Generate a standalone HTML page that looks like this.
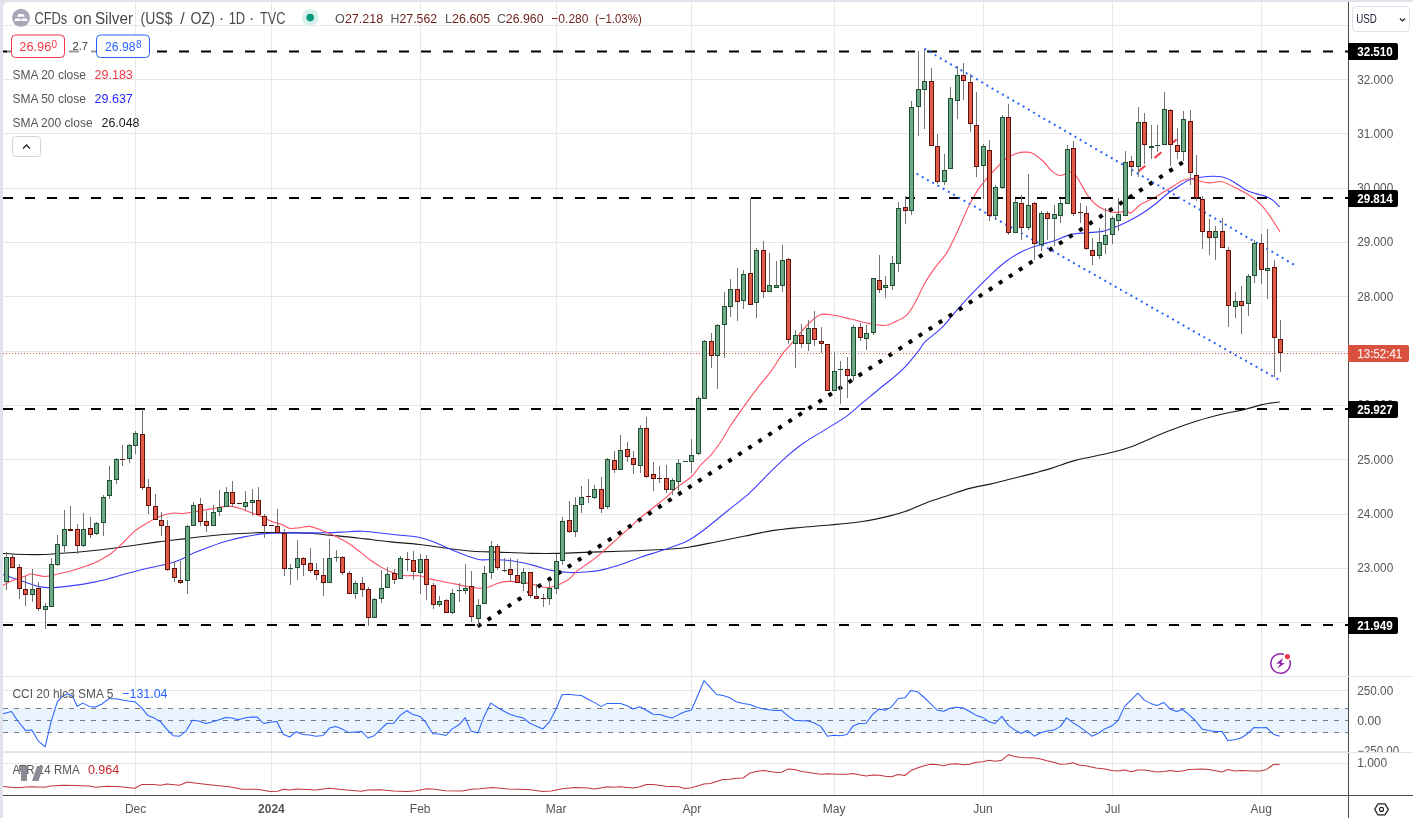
<!DOCTYPE html>
<html><head><meta charset="utf-8"><title>CFDs on Silver (US$ / OZ) 1D</title>
<style>html,body{margin:0;padding:0;background:#fff;overflow:hidden}svg{display:block}</style></head>
<body>
<svg width="1413" height="818" viewBox="0 0 1413 818" font-family="'Liberation Sans', sans-serif">
<rect x="0" y="0" width="1413" height="818" fill="#ffffff"/>
<g id="grid" stroke="#e8e8e8" stroke-width="1" shape-rendering="crispEdges">
<line x1="3" y1="25.5" x2="1348" y2="25.5"/>
<line x1="3" y1="79.5" x2="1348" y2="79.5"/>
<line x1="3" y1="133.5" x2="1348" y2="133.5"/>
<line x1="3" y1="188.5" x2="1348" y2="188.5"/>
<line x1="3" y1="242.5" x2="1348" y2="242.5"/>
<line x1="3" y1="296.5" x2="1348" y2="296.5"/>
<line x1="3" y1="351.5" x2="1348" y2="351.5"/>
<line x1="3" y1="405.5" x2="1348" y2="405.5"/>
<line x1="3" y1="459.5" x2="1348" y2="459.5"/>
<line x1="3" y1="514.5" x2="1348" y2="514.5"/>
<line x1="3" y1="568.5" x2="1348" y2="568.5"/>
<line x1="3" y1="622.5" x2="1348" y2="622.5"/>
<line x1="3" y1="690.5" x2="1348" y2="690.5"/>
<line x1="3" y1="720.5" x2="1348" y2="720.5"/>
<line x1="3" y1="751.5" x2="1348" y2="751.5"/>
<line x1="3" y1="763.5" x2="1348" y2="763.5"/>
<line x1="135.5" y1="2" x2="135.5" y2="795"/>
<line x1="271.5" y1="2" x2="271.5" y2="795"/>
<line x1="420.5" y1="2" x2="420.5" y2="795"/>
<line x1="556.5" y1="2" x2="556.5" y2="795"/>
<line x1="691.5" y1="2" x2="691.5" y2="795"/>
<line x1="834.5" y1="2" x2="834.5" y2="795"/>
<line x1="983.5" y1="2" x2="983.5" y2="795"/>
<line x1="1112.5" y1="2" x2="1112.5" y2="795"/>
<line x1="1261.5" y1="2" x2="1261.5" y2="795"/>
</g>
<g id="cci">
<rect x="3" y="708" width="1345" height="25" fill="#e9f4fe"/>
<line x1="3" y1="708.5" x2="1348" y2="708.5" stroke="#787b86" stroke-width="1" stroke-dasharray="5 6" shape-rendering="crispEdges"/>
<line x1="3" y1="720.5" x2="1348" y2="720.5" stroke="#787b86" stroke-width="1" stroke-dasharray="5 6" shape-rendering="crispEdges"/>
<line x1="3" y1="732.5" x2="1348" y2="732.5" stroke="#787b86" stroke-width="1" stroke-dasharray="5 6" shape-rendering="crispEdges"/>
<polyline fill="none" stroke="#2962ff" stroke-width="1.05" stroke-linejoin="round" points="3.0,713.8 11.5,711.5 17.8,721.0 25.5,730.4 31.8,729.9 38.2,740.8 45.1,746.9 51.0,722.2 57.3,701.8 62.4,696.2 67.5,693.7 72.6,696.2 77.2,706.2 82.8,703.1 89.2,706.4 95.5,706.9 101.9,703.9 109.0,698.8 115.9,698.8 122.3,700.1 128.7,701.1 135.0,701.8 141.4,707.7 147.8,715.4 154.1,717.9 160.5,721.7 166.9,729.4 173.2,735.7 179.6,736.2 186.0,731.1 192.4,720.2 198.7,721.0 205.9,723.5 212.7,721.7 219.1,719.7 225.5,717.4 231.8,717.9 238.2,719.7 244.6,717.9 251.0,717.1 257.3,717.1 263.7,723.5 270.1,722.2 276.9,721.5 283.3,734.2 289.7,737.0 296.3,731.7 302.4,734.5 309.6,735.0 315.9,736.2 323.1,735.5 329.4,728.1 335.8,726.6 342.2,729.1 348.5,732.4 355.4,731.9 361.5,731.4 367.8,738.0 374.2,735.7 380.6,729.4 386.9,723.5 393.8,723.2 400.2,715.4 406.8,710.8 413.2,714.6 420.1,716.4 425.9,722.7 432.8,733.7 439.2,733.9 446.1,735.5 451.9,729.1 459.0,724.8 465.2,717.6 471.0,731.1 477.9,732.9 484.3,715.9 490.9,703.1 497.8,707.7 504.1,711.3 510.5,714.6 516.9,716.4 523.2,717.9 529.6,723.0 536.0,726.1 542.9,728.9 549.2,722.2 555.9,709.5 562.0,694.7 568.6,694.2 575.0,695.0 581.3,695.5 588.2,699.3 594.6,702.6 601.0,706.4 607.3,703.4 614.2,703.4 620.6,703.6 626.9,705.7 633.3,709.0 639.9,706.7 646.3,710.3 653.2,714.3 659.6,714.6 665.9,716.6 672.3,717.9 678.7,714.6 685.0,711.8 691.4,710.0 697.8,695.5 704.0,680.7 710.2,687.3 716.6,694.5 722.9,695.5 729.3,697.5 736.9,702.1 743.3,703.4 749.7,704.4 756.1,706.9 762.4,708.7 768.8,709.7 775.2,710.5 781.5,710.3 787.9,715.9 794.3,720.2 801.9,720.7 808.3,721.0 813.9,722.7 821.0,726.6 827.4,736.2 833.8,735.2 840.1,735.7 847.0,734.5 852.9,726.1 859.2,723.5 866.1,723.2 872.5,714.6 879.1,709.0 885.2,710.3 891.6,706.9 898.2,698.5 904.8,697.8 911.0,690.4 917.3,691.7 924.2,697.5 930.6,703.6 936.9,710.0 943.8,711.3 950.2,708.2 956.8,707.2 963.2,708.0 969.6,711.5 976.4,715.4 982.8,717.6 989.2,721.7 995.0,723.5 1001.9,716.4 1008.3,725.3 1014.6,729.9 1021.0,733.4 1027.4,730.6 1034.3,736.2 1040.6,732.7 1047.0,731.1 1053.8,730.1 1060.2,726.6 1066.6,717.9 1072.9,722.7 1079.3,726.6 1085.7,731.4 1092.0,736.2 1098.4,733.2 1104.8,728.9 1111.9,725.8 1118.0,720.7 1124.6,706.4 1131.5,699.6 1137.9,693.2 1144.3,700.1 1150.6,703.4 1157.0,705.4 1163.9,702.6 1170.3,709.2 1176.6,711.5 1182.5,709.5 1188.9,714.6 1195.7,721.0 1202.1,729.1 1208.5,730.6 1215.1,731.4 1222.0,731.4 1227.8,740.6 1234.7,739.8 1241.1,738.0 1247.5,733.7 1253.8,727.6 1260.2,727.8 1266.6,727.6 1273.4,734.2 1279.8,736.2"/>
</g>
<g id="atr">
<polyline fill="none" stroke="#c2343c" stroke-width="1.05" stroke-linejoin="round" points="3.0,786.4 15.3,787.7 30.6,786.7 44.6,787.2 51.0,785.9 63.7,785.2 76.4,785.4 89.2,785.9 95.5,787.2 107.0,786.2 119.7,786.7 135.0,788.2 141.4,784.6 152.9,784.4 160.5,785.2 166.9,784.1 179.6,785.2 187.3,782.1 198.7,783.4 214.0,785.2 229.3,786.7 242.0,789.2 257.3,789.2 270.1,791.5 277.7,791.3 283.3,789.2 289.7,790.0 296.3,789.0 315.9,790.0 328.7,788.2 341.4,789.5 350.0,790.3 361.5,791.3 367.8,790.0 380.6,789.7 393.3,791.0 407.3,791.5 416.2,790.8 426.4,788.7 432.8,789.0 445.5,790.8 462.1,791.0 471.0,789.2 479.9,788.7 492.7,787.5 508.0,789.0 528.3,789.5 542.9,791.5 551.3,791.0 562.0,788.7 575.0,787.5 588.2,788.0 594.6,789.0 607.3,786.7 614.2,787.2 620.6,786.7 633.3,788.0 639.9,786.7 646.3,784.4 653.2,784.6 665.9,786.2 678.7,786.7 685.0,788.5 691.4,787.7 700.0,785.2 703.8,783.9 710.2,783.6 722.9,779.6 729.3,779.3 736.9,778.3 743.3,778.0 749.7,773.2 756.1,771.4 763.7,770.6 770.1,771.4 776.4,772.4 781.5,772.2 787.9,769.1 794.3,769.6 801.9,771.4 812.1,772.9 821.0,774.2 827.4,773.7 837.6,774.2 847.0,774.2 852.9,773.4 859.2,774.7 866.1,776.0 873.2,775.0 879.1,775.2 885.2,776.2 891.6,776.8 898.2,774.5 904.8,775.5 911.0,770.6 917.3,768.1 924.2,765.8 930.6,764.3 936.9,764.5 943.8,765.8 950.2,764.0 956.8,763.8 963.2,764.8 969.6,764.3 976.4,762.2 982.8,761.7 989.2,760.2 995.0,761.2 1001.9,760.2 1008.3,754.8 1014.6,756.6 1021.0,757.6 1034.3,757.9 1040.6,758.9 1047.0,760.7 1053.6,762.2 1060.2,764.3 1066.6,764.0 1072.9,762.7 1079.3,765.0 1085.7,765.8 1095.9,768.1 1104.8,768.9 1111.9,770.4 1118.0,771.1 1124.6,770.1 1131.5,771.7 1137.9,770.1 1144.3,769.9 1157.0,771.9 1163.9,771.4 1170.3,770.6 1176.6,771.4 1182.5,771.1 1188.9,769.4 1202.1,768.9 1208.5,769.6 1222.0,771.9 1227.8,769.6 1234.7,770.9 1241.1,770.6 1253.8,771.1 1260.2,770.9 1266.6,769.4 1273.4,764.5 1279.8,764.3"/>
</g>
<g id="sma" fill="none" stroke-linejoin="round" stroke-width="1.1">
<path stroke="#1a1a1a" d="M3.0 553.5 C6.6 553.7 17.9 554.3 24.8 554.5 C31.7 554.7 38.4 554.7 44.6 554.5 C50.8 554.3 54.9 553.8 61.9 553.3 C68.9 552.8 78.4 552.0 86.7 551.2 C95.0 550.4 103.2 549.5 111.5 548.5 C119.8 547.5 127.9 546.2 136.2 545.0 C144.4 543.8 152.7 542.6 161.0 541.5 C169.3 540.4 177.5 539.6 185.8 538.6 C194.1 537.6 202.3 536.6 210.6 535.8 C218.8 535.0 227.1 534.3 235.3 533.8 C243.6 533.3 251.8 532.8 260.1 532.6 C268.4 532.4 276.6 532.5 284.9 532.6 C293.1 532.7 302.2 532.9 309.6 533.3 C317.0 533.7 322.8 534.5 329.5 535.1 C336.2 535.7 344.0 536.5 350.0 537.1 C356.0 537.7 358.7 538.1 365.5 538.9 C372.3 539.7 382.1 541.0 391.0 541.9 C399.9 542.8 409.7 543.4 419.0 544.5 C428.3 545.6 438.1 547.2 447.0 548.3 C455.9 549.4 464.0 550.7 472.5 551.3 C481.0 551.9 488.2 551.8 498.0 552.1 C507.8 552.5 520.9 553.2 531.1 553.4 C541.3 553.6 549.3 553.6 559.1 553.4 C568.9 553.2 579.5 552.5 589.7 552.1 C599.9 551.8 611.0 551.6 620.3 551.3 C629.6 551.0 637.2 550.7 645.7 550.3 C654.2 549.9 663.8 549.5 671.2 549.0 C678.6 548.5 682.4 548.2 690.0 547.0 C697.6 545.8 707.9 543.5 716.9 541.7 C725.9 539.9 734.8 538.1 743.8 536.3 C752.8 534.5 761.7 532.3 770.7 530.9 C779.7 529.5 787.8 528.7 797.6 527.7 C807.5 526.7 819.0 526.0 829.8 525.0 C840.5 524.0 852.2 523.0 862.1 521.5 C872.0 520.0 881.8 517.8 889.0 516.1 C896.2 514.5 898.8 513.8 905.1 511.6 C911.4 509.4 919.4 505.4 926.6 502.7 C933.8 500.0 940.9 497.8 948.1 495.4 C955.3 493.0 962.4 490.3 969.6 488.4 C976.8 486.5 984.0 485.5 991.2 483.9 C998.4 482.2 1005.5 480.3 1012.7 478.5 C1019.9 476.7 1027.6 474.9 1034.2 473.1 C1040.8 471.3 1045.8 470.0 1052.6 467.9 C1059.4 465.8 1065.5 463.0 1075.3 460.4 C1085.1 457.8 1101.7 454.9 1111.5 452.5 C1121.3 450.1 1125.1 449.1 1134.2 445.7 C1143.3 442.3 1155.3 436.2 1165.9 432.1 C1176.5 428.0 1188.2 423.8 1197.6 420.8 C1207.0 417.8 1215.0 415.8 1222.5 414.0 C1230.0 412.2 1236.5 411.4 1242.9 409.9 C1249.3 408.4 1256.5 406.0 1261.0 404.9 C1265.5 403.8 1266.9 403.6 1270.0 403.1 C1273.1 402.6 1278.2 402.2 1279.8 402.0"/>
<path stroke="#3c3cff" d="M3.0 574.6 C4.6 575.1 8.8 576.6 12.4 577.9 C16.0 579.1 20.7 580.7 24.8 582.1 C28.9 583.5 33.5 585.2 37.2 586.1 C40.9 587.0 43.4 587.4 47.1 587.6 C50.8 587.8 54.9 587.5 59.4 587.1 C63.9 586.7 68.5 586.2 74.3 585.4 C80.1 584.6 87.9 583.4 94.1 582.1 C100.3 580.9 105.7 579.4 111.5 577.9 C117.3 576.4 122.6 574.6 128.8 573.0 C135.0 571.4 142.4 569.5 148.6 568.0 C154.8 566.5 161.1 565.5 166.0 564.3 C170.9 563.1 173.8 562.5 178.3 560.6 C182.8 558.8 187.8 555.6 193.2 553.2 C198.6 550.9 204.8 548.6 210.6 546.5 C216.4 544.4 222.1 542.4 227.9 540.8 C233.7 539.1 239.8 537.7 245.2 536.6 C250.6 535.5 255.6 534.7 260.1 534.1 C264.7 533.5 268.4 533.5 272.5 533.3 C276.6 533.1 278.7 533.0 284.9 532.9 C291.1 532.8 302.2 532.9 309.6 532.9 C317.0 532.9 324.1 532.7 329.5 532.6 C334.9 532.5 336.2 532.3 341.8 532.1 C347.4 531.9 354.7 530.8 362.9 531.2 C371.1 531.6 381.6 533.3 391.0 534.3 C400.4 535.3 411.4 535.8 419.0 537.3 C426.6 538.8 431.3 541.1 436.8 543.2 C442.3 545.3 447.0 548.0 452.1 550.1 C457.2 552.2 462.7 554.3 467.4 555.9 C472.1 557.5 475.9 559.1 480.1 559.7 C484.4 560.3 487.4 559.5 492.9 559.7 C498.4 559.9 506.4 560.0 513.2 561.0 C520.0 562.0 527.2 563.8 533.6 565.4 C540.0 567.0 545.5 569.2 551.5 570.4 C557.5 571.6 563.8 572.2 569.3 572.5 C574.8 572.8 579.5 572.4 584.6 572.0 C589.7 571.6 594.0 571.6 599.9 570.4 C605.8 569.2 613.5 567.0 620.3 564.8 C627.1 562.6 633.8 559.5 640.6 557.2 C647.4 554.9 654.6 552.9 661.0 550.8 C667.4 548.7 674.1 546.4 678.9 544.5 C683.7 542.6 685.5 542.2 690.0 539.5 C694.5 536.8 699.8 533.0 706.1 528.2 C712.4 523.4 720.4 516.5 727.6 510.7 C734.8 504.9 742.9 498.9 749.2 493.3 C755.5 487.7 759.5 482.9 765.3 477.1 C771.1 471.4 777.8 464.4 784.1 458.8 C790.4 453.2 796.2 448.3 802.9 443.5 C809.6 438.7 817.2 434.6 824.4 430.1 C831.6 425.6 839.7 421.1 846.0 416.6 C852.3 412.1 856.7 407.7 862.1 403.2 C867.5 398.7 873.3 393.7 878.2 389.7 C883.1 385.7 887.2 382.8 891.7 379.0 C896.2 375.2 900.6 371.6 905.1 366.9 C909.6 362.2 915.2 355.0 918.6 350.8 C922.0 346.6 921.4 345.5 925.2 341.7 C929.0 337.9 935.9 333.6 941.3 328.2 C946.7 322.8 952.1 315.4 957.5 309.4 C962.9 303.3 968.2 297.5 973.6 291.9 C979.0 286.3 984.3 280.9 989.7 275.8 C995.1 270.7 1000.5 265.5 1005.9 261.5 C1011.3 257.5 1016.6 254.3 1022.0 251.6 C1027.4 248.9 1032.7 247.2 1038.1 245.4 C1043.5 243.6 1048.9 242.6 1054.3 240.8 C1059.7 239.0 1065.0 235.9 1070.4 234.6 C1075.8 233.3 1081.1 233.3 1086.5 232.8 C1091.9 232.3 1098.2 232.3 1102.7 231.4 C1107.2 230.5 1110.6 228.4 1113.4 227.4 C1116.2 226.4 1116.4 226.8 1119.5 225.5 C1122.6 224.2 1127.8 221.6 1132.0 219.3 C1136.2 217.1 1140.2 214.8 1144.4 212.0 C1148.6 209.2 1152.7 206.0 1156.9 202.7 C1161.1 199.4 1165.2 195.4 1169.4 192.3 C1173.6 189.2 1178.4 186.2 1181.9 184.0 C1185.4 181.8 1187.1 180.5 1190.2 179.4 C1193.3 178.3 1196.8 177.8 1200.6 177.3 C1204.4 176.8 1209.3 176.3 1213.1 176.3 C1216.9 176.3 1220.0 176.4 1223.5 177.3 C1227.0 178.2 1230.0 179.8 1233.8 181.9 C1237.6 184.1 1242.5 188.2 1246.3 190.2 C1250.1 192.2 1253.4 192.9 1256.7 193.9 C1260.0 194.9 1263.3 195.3 1266.1 196.4 C1268.9 197.5 1271.0 198.9 1273.3 200.6 C1275.5 202.3 1278.5 205.8 1279.6 206.8"/>
<path stroke="#ff5064" d="M3.0 585.2 C4.6 584.4 8.8 581.9 12.4 580.4 C16.0 578.9 21.6 577.3 24.8 576.2 C28.0 575.1 28.1 574.0 31.4 574.0 C34.7 574.0 40.4 576.5 44.7 576.5 C49.0 576.5 52.0 575.3 57.0 574.2 C62.0 573.1 68.2 571.9 74.4 570.0 C80.6 568.1 89.1 565.2 94.1 563.1 C99.1 561.0 101.7 559.0 104.6 557.4 C107.5 555.8 109.4 554.8 111.5 553.2 C113.6 551.7 115.2 550.0 117.3 548.1 C119.4 546.2 121.0 544.9 123.9 542.0 C126.9 539.1 130.9 534.2 135.0 530.9 C139.1 527.6 144.3 524.7 148.6 522.2 C152.9 519.7 156.9 517.5 161.0 516.0 C165.1 514.5 169.7 513.4 173.4 513.0 C177.1 512.6 179.2 513.8 183.3 513.5 C187.4 513.2 193.2 511.9 198.2 511.1 C203.1 510.3 208.1 509.4 213.0 508.6 C217.9 507.8 223.8 506.2 227.9 506.1 C232.0 506.0 234.1 506.8 237.8 507.8 C241.5 508.8 246.1 510.7 250.2 512.3 C254.3 513.9 258.9 515.6 262.6 517.2 C266.3 518.8 269.2 520.5 272.5 521.7 C275.8 523.0 279.5 523.6 282.4 524.7 C285.3 525.8 286.9 527.9 289.8 528.4 C292.7 528.9 296.4 528.0 299.7 527.7 C303.0 527.4 306.3 526.1 309.6 526.4 C312.9 526.7 315.8 528.2 319.5 529.6 C323.2 531.0 328.2 533.0 331.9 534.6 C335.6 536.2 338.8 537.9 341.8 539.5 C344.9 541.1 347.1 542.4 350.2 544.5 C353.3 546.6 357.0 549.5 360.4 552.1 C363.8 554.7 367.2 557.8 370.6 560.3 C374.0 562.8 377.4 564.9 380.8 566.9 C384.2 568.9 387.2 570.6 391.0 572.0 C394.8 573.4 399.0 574.9 403.7 575.5 C408.4 576.1 414.8 575.2 419.0 575.8 C423.2 576.4 425.4 578.0 429.2 578.9 C433.0 579.8 437.7 580.6 441.9 581.4 C446.1 582.2 450.4 583.0 454.6 583.9 C458.9 584.8 463.1 585.8 467.4 586.5 C471.6 587.2 476.7 588.2 480.1 588.3 C483.5 588.4 484.8 588.1 487.8 587.3 C490.8 586.4 494.6 584.2 498.0 583.2 C501.4 582.2 504.8 581.6 508.2 581.4 C511.6 581.2 514.5 581.5 518.3 581.9 C522.1 582.3 526.9 583.0 531.1 583.9 C535.4 584.8 540.0 586.9 543.8 587.3 C547.6 587.7 551.0 587.2 554.0 586.5 C557.0 585.8 559.2 584.5 561.7 583.2 C564.2 581.9 566.8 580.9 569.3 578.9 C571.8 576.9 573.5 574.0 576.9 571.2 C580.3 568.4 585.5 565.5 589.7 562.3 C594.0 559.1 598.1 555.7 602.4 552.1 C606.6 548.5 611.0 544.4 615.2 540.6 C619.5 536.8 623.7 533.0 627.9 529.2 C632.1 525.4 636.4 521.3 640.6 517.7 C644.9 514.1 649.1 510.9 653.4 507.5 C657.6 504.1 661.9 500.9 666.1 497.3 C670.4 493.7 674.6 489.4 678.9 485.9 C683.1 482.4 688.0 480.0 691.6 476.5 C695.2 473.0 697.5 468.7 700.8 465.0 C704.1 461.3 707.9 458.6 711.5 454.3 C715.1 450.1 719.2 444.2 722.3 439.5 C725.4 434.8 726.7 431.5 730.3 426.0 C733.9 420.5 739.3 413.0 743.8 406.7 C748.3 400.4 752.7 394.2 757.2 388.4 C761.7 382.6 766.4 377.5 770.7 371.7 C775.0 365.9 779.4 357.9 782.8 353.4 C786.1 348.8 786.8 349.0 790.8 344.4 C794.8 339.8 802.0 330.4 806.9 325.5 C811.8 320.6 815.8 316.5 820.3 314.8 C824.8 313.1 828.9 314.6 833.8 315.3 C838.7 316.0 844.1 317.5 849.9 318.8 C855.7 320.1 862.9 322.3 868.7 323.4 C874.5 324.5 880.4 325.8 884.9 325.5 C889.4 325.2 892.0 323.2 895.6 321.5 C899.2 319.8 903.3 318.2 906.4 315.3 C909.5 312.4 911.3 309.5 914.4 304.0 C917.5 298.5 921.6 288.8 925.2 282.5 C928.8 276.2 932.4 271.3 936.0 266.4 C939.6 261.5 943.1 258.7 946.7 252.9 C950.3 247.1 953.9 239.0 957.5 231.4 C961.1 223.8 964.6 214.4 968.2 207.2 C971.8 200.0 975.0 194.2 979.0 188.4 C983.0 182.6 987.9 177.2 992.4 172.3 C996.9 167.4 1001.9 162.0 1005.9 158.8 C1009.9 155.7 1013.5 154.5 1016.6 153.4 C1019.7 152.3 1022.0 152.1 1024.7 152.1 C1027.4 152.1 1029.7 151.8 1032.8 153.4 C1035.9 155.0 1040.4 158.6 1043.5 161.5 C1046.6 164.4 1048.9 168.6 1051.6 170.9 C1054.3 173.2 1057.1 175.1 1059.6 175.5 C1062.1 175.9 1064.2 174.1 1066.4 173.6 C1068.7 173.1 1070.6 170.5 1073.1 172.3 C1075.6 174.1 1078.7 180.4 1081.2 184.4 C1083.7 188.4 1085.4 192.7 1088.3 196.4 C1091.2 200.1 1094.9 204.2 1098.7 206.8 C1102.5 209.4 1107.4 211.1 1111.2 212.0 C1115.0 212.9 1119.0 212.2 1121.6 212.0 C1124.2 211.8 1125.2 210.4 1126.8 210.6 C1128.3 210.8 1128.7 214.1 1130.9 213.1 C1133.2 212.1 1136.7 207.1 1140.3 204.7 C1143.9 202.3 1149.0 200.6 1152.8 198.5 C1156.6 196.4 1159.7 194.4 1163.2 192.3 C1166.7 190.2 1170.5 187.9 1173.6 186.0 C1176.7 184.1 1179.1 182.0 1181.9 180.8 C1184.7 179.6 1187.4 178.8 1190.2 178.8 C1193.0 178.8 1195.4 180.1 1198.5 180.8 C1201.6 181.5 1205.1 182.8 1208.9 182.9 C1212.7 183.0 1217.6 181.0 1221.4 181.5 C1225.2 182.0 1228.3 184.4 1231.8 186.0 C1235.3 187.6 1238.7 189.3 1242.2 191.2 C1245.7 193.1 1249.5 195.2 1252.6 197.5 C1255.7 199.8 1258.1 201.8 1260.9 204.7 C1263.7 207.6 1266.8 211.8 1269.2 215.1 C1271.6 218.4 1273.6 221.7 1275.4 224.5 C1277.2 227.3 1279.2 230.6 1280.0 231.8"/>
</g>
<g id="drawings" fill="none">
<line x1="3" y1="51.5" x2="1348" y2="51.5" stroke="#000" stroke-width="2" stroke-dasharray="10 12"/>
<line x1="3" y1="198" x2="1348" y2="198" stroke="#000" stroke-width="2" stroke-dasharray="10 12"/>
<line x1="3" y1="409" x2="1348" y2="409" stroke="#000" stroke-width="2" stroke-dasharray="10 12"/>
<line x1="3" y1="625" x2="1348" y2="625" stroke="#000" stroke-width="2" stroke-dasharray="10 12"/>
<line x1="477.7" y1="626.4" x2="1183.5" y2="161.9" stroke="#000" stroke-width="4" stroke-dasharray="4 8"/>
<line x1="924.3" y1="48.7" x2="1295" y2="265.2" stroke="#2962ff" stroke-width="2" stroke-dasharray="2 4"/>
<line x1="916.6" y1="173.6" x2="1279.5" y2="380" stroke="#2962ff" stroke-width="2" stroke-dasharray="2 4"/>
<line x1="1138.4" y1="171.5" x2="1176.5" y2="139.5" stroke="#f23645" stroke-width="2" stroke-dasharray="9 12"/>
</g>
<line x1="3" y1="353.5" x2="1348" y2="353.5" stroke="#e0543f" stroke-width="1" stroke-dasharray="1 2" shape-rendering="crispEdges"/>
<g id="candles" shape-rendering="crispEdges">
<line x1="6.5" y1="552" x2="6.5" y2="590" stroke="#737373" stroke-width="1"/>
<rect x="4.5" y="557.5" width="4" height="24" fill="#6fa98a" stroke="#1d4f30" stroke-width="1"/>
<line x1="12.5" y1="554" x2="12.5" y2="568" stroke="#737373" stroke-width="1"/>
<rect x="10.5" y="557.5" width="4" height="10" fill="#e05a48" stroke="#5e100a" stroke-width="1"/>
<line x1="19.5" y1="564" x2="19.5" y2="599" stroke="#737373" stroke-width="1"/>
<rect x="17.5" y="567.5" width="4" height="21" fill="#e05a48" stroke="#5e100a" stroke-width="1"/>
<line x1="25.5" y1="576" x2="25.5" y2="606" stroke="#737373" stroke-width="1"/>
<rect x="23.5" y="589.5" width="4" height="5" fill="#e05a48" stroke="#5e100a" stroke-width="1"/>
<line x1="32.5" y1="569" x2="32.5" y2="602" stroke="#737373" stroke-width="1"/>
<rect x="30.5" y="589.5" width="4" height="5" fill="#6fa98a" stroke="#1d4f30" stroke-width="1"/>
<line x1="38.5" y1="582" x2="38.5" y2="611" stroke="#737373" stroke-width="1"/>
<rect x="36.5" y="588.5" width="4" height="20" fill="#e05a48" stroke="#5e100a" stroke-width="1"/>
<line x1="45.5" y1="603" x2="45.5" y2="629" stroke="#737373" stroke-width="1"/>
<rect x="43.5" y="606.5" width="4" height="3" fill="#6fa98a" stroke="#1d4f30" stroke-width="1"/>
<line x1="51.5" y1="558" x2="51.5" y2="607" stroke="#737373" stroke-width="1"/>
<rect x="49.5" y="564.5" width="4" height="42" fill="#6fa98a" stroke="#1d4f30" stroke-width="1"/>
<line x1="57.5" y1="535" x2="57.5" y2="566" stroke="#737373" stroke-width="1"/>
<rect x="55.5" y="544.5" width="4" height="20" fill="#6fa98a" stroke="#1d4f30" stroke-width="1"/>
<line x1="64.5" y1="510" x2="64.5" y2="552" stroke="#737373" stroke-width="1"/>
<rect x="62.5" y="529.5" width="4" height="16" fill="#6fa98a" stroke="#1d4f30" stroke-width="1"/>
<line x1="70.5" y1="506" x2="70.5" y2="531" stroke="#737373" stroke-width="1"/>
<rect x="68.0" y="529" width="5" height="2" fill="#5e100a"/>
<line x1="77.5" y1="524" x2="77.5" y2="554" stroke="#737373" stroke-width="1"/>
<rect x="75.5" y="529.5" width="4" height="16" fill="#e05a48" stroke="#5e100a" stroke-width="1"/>
<line x1="83.5" y1="513" x2="83.5" y2="547" stroke="#737373" stroke-width="1"/>
<rect x="81.5" y="529.5" width="4" height="16" fill="#6fa98a" stroke="#1d4f30" stroke-width="1"/>
<line x1="90.5" y1="517" x2="90.5" y2="538" stroke="#737373" stroke-width="1"/>
<rect x="88.5" y="528.5" width="4" height="6" fill="#e05a48" stroke="#5e100a" stroke-width="1"/>
<line x1="96.5" y1="522" x2="96.5" y2="535" stroke="#737373" stroke-width="1"/>
<rect x="94.5" y="523.5" width="4" height="10" fill="#6fa98a" stroke="#1d4f30" stroke-width="1"/>
<line x1="103.5" y1="495" x2="103.5" y2="536" stroke="#737373" stroke-width="1"/>
<rect x="101.5" y="497.5" width="4" height="25" fill="#6fa98a" stroke="#1d4f30" stroke-width="1"/>
<line x1="109.5" y1="466" x2="109.5" y2="499" stroke="#737373" stroke-width="1"/>
<rect x="107.5" y="480.5" width="4" height="15" fill="#6fa98a" stroke="#1d4f30" stroke-width="1"/>
<line x1="116.5" y1="458" x2="116.5" y2="484" stroke="#737373" stroke-width="1"/>
<rect x="114.5" y="459.5" width="4" height="20" fill="#6fa98a" stroke="#1d4f30" stroke-width="1"/>
<line x1="122.5" y1="445" x2="122.5" y2="466" stroke="#737373" stroke-width="1"/>
<line x1="120.0" y1="459.5" x2="125.0" y2="459.5" stroke="#5e100a" stroke-width="1"/>
<line x1="129.5" y1="444" x2="129.5" y2="463" stroke="#737373" stroke-width="1"/>
<rect x="127.5" y="445.5" width="4" height="13" fill="#6fa98a" stroke="#1d4f30" stroke-width="1"/>
<line x1="135.5" y1="431" x2="135.5" y2="454" stroke="#737373" stroke-width="1"/>
<rect x="133.5" y="433.5" width="4" height="12" fill="#6fa98a" stroke="#1d4f30" stroke-width="1"/>
<line x1="142.5" y1="409" x2="142.5" y2="490" stroke="#737373" stroke-width="1"/>
<rect x="140.5" y="434.5" width="4" height="53" fill="#e05a48" stroke="#5e100a" stroke-width="1"/>
<line x1="148.5" y1="479" x2="148.5" y2="514" stroke="#737373" stroke-width="1"/>
<rect x="146.5" y="487.5" width="4" height="18" fill="#e05a48" stroke="#5e100a" stroke-width="1"/>
<line x1="155.5" y1="494" x2="155.5" y2="520" stroke="#737373" stroke-width="1"/>
<rect x="153.5" y="506.5" width="4" height="13" fill="#e05a48" stroke="#5e100a" stroke-width="1"/>
<line x1="161.5" y1="512" x2="161.5" y2="536" stroke="#737373" stroke-width="1"/>
<rect x="159.5" y="520.5" width="4" height="5" fill="#e05a48" stroke="#5e100a" stroke-width="1"/>
<line x1="167.5" y1="520" x2="167.5" y2="571" stroke="#737373" stroke-width="1"/>
<rect x="165.5" y="526.5" width="4" height="43" fill="#e05a48" stroke="#5e100a" stroke-width="1"/>
<line x1="174.5" y1="561" x2="174.5" y2="582" stroke="#737373" stroke-width="1"/>
<rect x="172.5" y="568.5" width="4" height="9" fill="#e05a48" stroke="#5e100a" stroke-width="1"/>
<line x1="180.5" y1="561" x2="180.5" y2="584" stroke="#737373" stroke-width="1"/>
<rect x="178.5" y="580.5" width="4" height="2" fill="#e05a48" stroke="#5e100a" stroke-width="1"/>
<line x1="187.5" y1="525" x2="187.5" y2="594" stroke="#737373" stroke-width="1"/>
<rect x="185.5" y="526.5" width="4" height="54" fill="#6fa98a" stroke="#1d4f30" stroke-width="1"/>
<line x1="193.5" y1="502" x2="193.5" y2="526" stroke="#737373" stroke-width="1"/>
<rect x="191.5" y="505.5" width="4" height="20" fill="#6fa98a" stroke="#1d4f30" stroke-width="1"/>
<line x1="200.5" y1="498" x2="200.5" y2="526" stroke="#737373" stroke-width="1"/>
<rect x="198.5" y="504.5" width="4" height="17" fill="#e05a48" stroke="#5e100a" stroke-width="1"/>
<line x1="206.5" y1="511" x2="206.5" y2="532" stroke="#737373" stroke-width="1"/>
<rect x="204.5" y="521.5" width="4" height="4" fill="#e05a48" stroke="#5e100a" stroke-width="1"/>
<line x1="213.5" y1="505" x2="213.5" y2="526" stroke="#737373" stroke-width="1"/>
<rect x="211.5" y="512.5" width="4" height="13" fill="#6fa98a" stroke="#1d4f30" stroke-width="1"/>
<line x1="219.5" y1="490" x2="219.5" y2="516" stroke="#737373" stroke-width="1"/>
<rect x="217.5" y="507.5" width="4" height="4" fill="#6fa98a" stroke="#1d4f30" stroke-width="1"/>
<line x1="226.5" y1="487" x2="226.5" y2="507" stroke="#737373" stroke-width="1"/>
<rect x="224.5" y="492.5" width="4" height="14" fill="#6fa98a" stroke="#1d4f30" stroke-width="1"/>
<line x1="232.5" y1="481" x2="232.5" y2="507" stroke="#737373" stroke-width="1"/>
<rect x="230.5" y="492.5" width="4" height="11" fill="#e05a48" stroke="#5e100a" stroke-width="1"/>
<line x1="239.5" y1="503" x2="239.5" y2="504" stroke="#737373" stroke-width="1"/>
<line x1="237.0" y1="503.5" x2="242.0" y2="503.5" stroke="#5e100a" stroke-width="1"/>
<line x1="245.5" y1="491" x2="245.5" y2="510" stroke="#737373" stroke-width="1"/>
<rect x="243.5" y="502.5" width="4" height="4" fill="#6fa98a" stroke="#1d4f30" stroke-width="1"/>
<line x1="252.5" y1="489" x2="252.5" y2="516" stroke="#737373" stroke-width="1"/>
<rect x="250.5" y="500.5" width="4" height="2" fill="#6fa98a" stroke="#1d4f30" stroke-width="1"/>
<line x1="258.5" y1="487" x2="258.5" y2="515" stroke="#737373" stroke-width="1"/>
<rect x="256.5" y="500.5" width="4" height="14" fill="#e05a48" stroke="#5e100a" stroke-width="1"/>
<line x1="264.5" y1="514" x2="264.5" y2="538" stroke="#737373" stroke-width="1"/>
<rect x="262.5" y="516.5" width="4" height="9" fill="#e05a48" stroke="#5e100a" stroke-width="1"/>
<line x1="271.5" y1="525" x2="271.5" y2="526" stroke="#737373" stroke-width="1"/>
<line x1="269.0" y1="525.5" x2="274.0" y2="525.5" stroke="#5e100a" stroke-width="1"/>
<line x1="277.5" y1="509" x2="277.5" y2="533" stroke="#737373" stroke-width="1"/>
<rect x="275.5" y="526.5" width="4" height="6" fill="#e05a48" stroke="#5e100a" stroke-width="1"/>
<line x1="284.5" y1="529" x2="284.5" y2="576" stroke="#737373" stroke-width="1"/>
<rect x="282.5" y="533.5" width="4" height="35" fill="#e05a48" stroke="#5e100a" stroke-width="1"/>
<line x1="290.5" y1="564" x2="290.5" y2="585" stroke="#737373" stroke-width="1"/>
<line x1="288.0" y1="568.5" x2="293.0" y2="568.5" stroke="#1d4f30" stroke-width="1"/>
<line x1="297.5" y1="540" x2="297.5" y2="580" stroke="#737373" stroke-width="1"/>
<rect x="295.5" y="558.5" width="4" height="9" fill="#6fa98a" stroke="#1d4f30" stroke-width="1"/>
<line x1="303.5" y1="557" x2="303.5" y2="576" stroke="#737373" stroke-width="1"/>
<rect x="301.5" y="558.5" width="4" height="6" fill="#e05a48" stroke="#5e100a" stroke-width="1"/>
<line x1="310.5" y1="548" x2="310.5" y2="573" stroke="#737373" stroke-width="1"/>
<rect x="308.5" y="563.5" width="4" height="7" fill="#e05a48" stroke="#5e100a" stroke-width="1"/>
<line x1="316.5" y1="563" x2="316.5" y2="580" stroke="#737373" stroke-width="1"/>
<rect x="314.5" y="570.5" width="4" height="4" fill="#e05a48" stroke="#5e100a" stroke-width="1"/>
<line x1="323.5" y1="558" x2="323.5" y2="596" stroke="#737373" stroke-width="1"/>
<rect x="321.5" y="575.5" width="4" height="7" fill="#e05a48" stroke="#5e100a" stroke-width="1"/>
<line x1="329.5" y1="539" x2="329.5" y2="583" stroke="#737373" stroke-width="1"/>
<rect x="327.5" y="558.5" width="4" height="24" fill="#6fa98a" stroke="#1d4f30" stroke-width="1"/>
<line x1="336.5" y1="550" x2="336.5" y2="562" stroke="#737373" stroke-width="1"/>
<line x1="334.0" y1="557.5" x2="339.0" y2="557.5" stroke="#1d4f30" stroke-width="1"/>
<line x1="342.5" y1="556" x2="342.5" y2="575" stroke="#737373" stroke-width="1"/>
<rect x="340.5" y="557.5" width="4" height="15" fill="#e05a48" stroke="#5e100a" stroke-width="1"/>
<line x1="349.5" y1="571" x2="349.5" y2="594" stroke="#737373" stroke-width="1"/>
<rect x="347.5" y="573.5" width="4" height="20" fill="#e05a48" stroke="#5e100a" stroke-width="1"/>
<line x1="355.5" y1="581" x2="355.5" y2="599" stroke="#737373" stroke-width="1"/>
<rect x="353.5" y="583.5" width="4" height="10" fill="#6fa98a" stroke="#1d4f30" stroke-width="1"/>
<line x1="362.5" y1="577" x2="362.5" y2="597" stroke="#737373" stroke-width="1"/>
<rect x="360.5" y="583.5" width="4" height="6" fill="#e05a48" stroke="#5e100a" stroke-width="1"/>
<line x1="368.5" y1="587" x2="368.5" y2="626" stroke="#737373" stroke-width="1"/>
<rect x="366.5" y="589.5" width="4" height="28" fill="#e05a48" stroke="#5e100a" stroke-width="1"/>
<line x1="374.5" y1="598" x2="374.5" y2="618" stroke="#737373" stroke-width="1"/>
<rect x="372.5" y="599.5" width="4" height="18" fill="#6fa98a" stroke="#1d4f30" stroke-width="1"/>
<line x1="381.5" y1="570" x2="381.5" y2="603" stroke="#737373" stroke-width="1"/>
<rect x="379.5" y="588.5" width="4" height="10" fill="#6fa98a" stroke="#1d4f30" stroke-width="1"/>
<line x1="387.5" y1="567" x2="387.5" y2="588" stroke="#737373" stroke-width="1"/>
<rect x="385.5" y="574.5" width="4" height="13" fill="#6fa98a" stroke="#1d4f30" stroke-width="1"/>
<line x1="394.5" y1="569" x2="394.5" y2="584" stroke="#737373" stroke-width="1"/>
<rect x="392.5" y="573.5" width="4" height="6" fill="#e05a48" stroke="#5e100a" stroke-width="1"/>
<line x1="400.5" y1="556" x2="400.5" y2="579" stroke="#737373" stroke-width="1"/>
<rect x="398.5" y="558.5" width="4" height="20" fill="#6fa98a" stroke="#1d4f30" stroke-width="1"/>
<line x1="407.5" y1="552" x2="407.5" y2="571" stroke="#737373" stroke-width="1"/>
<line x1="405.0" y1="559.5" x2="410.0" y2="559.5" stroke="#5e100a" stroke-width="1"/>
<line x1="413.5" y1="551" x2="413.5" y2="580" stroke="#737373" stroke-width="1"/>
<rect x="411.5" y="560.5" width="4" height="11" fill="#e05a48" stroke="#5e100a" stroke-width="1"/>
<line x1="420.5" y1="554" x2="420.5" y2="594" stroke="#737373" stroke-width="1"/>
<rect x="418.5" y="559.5" width="4" height="13" fill="#6fa98a" stroke="#1d4f30" stroke-width="1"/>
<line x1="426.5" y1="555" x2="426.5" y2="600" stroke="#737373" stroke-width="1"/>
<rect x="424.5" y="559.5" width="4" height="25" fill="#e05a48" stroke="#5e100a" stroke-width="1"/>
<line x1="433.5" y1="583" x2="433.5" y2="609" stroke="#737373" stroke-width="1"/>
<rect x="431.5" y="585.5" width="4" height="19" fill="#e05a48" stroke="#5e100a" stroke-width="1"/>
<line x1="439.5" y1="596" x2="439.5" y2="607" stroke="#737373" stroke-width="1"/>
<rect x="437.5" y="601.5" width="4" height="3" fill="#6fa98a" stroke="#1d4f30" stroke-width="1"/>
<line x1="446.5" y1="599" x2="446.5" y2="613" stroke="#737373" stroke-width="1"/>
<rect x="444.5" y="600.5" width="4" height="12" fill="#e05a48" stroke="#5e100a" stroke-width="1"/>
<line x1="452.5" y1="589" x2="452.5" y2="614" stroke="#737373" stroke-width="1"/>
<rect x="450.5" y="593.5" width="4" height="19" fill="#6fa98a" stroke="#1d4f30" stroke-width="1"/>
<line x1="459.5" y1="583" x2="459.5" y2="602" stroke="#737373" stroke-width="1"/>
<line x1="457.0" y1="590.5" x2="462.0" y2="590.5" stroke="#1d4f30" stroke-width="1"/>
<line x1="465.5" y1="564" x2="465.5" y2="594" stroke="#737373" stroke-width="1"/>
<rect x="463.5" y="588.5" width="4" height="2" fill="#6fa98a" stroke="#1d4f30" stroke-width="1"/>
<line x1="471.5" y1="571" x2="471.5" y2="622" stroke="#737373" stroke-width="1"/>
<rect x="469.5" y="586.5" width="4" height="30" fill="#e05a48" stroke="#5e100a" stroke-width="1"/>
<line x1="478.5" y1="599" x2="478.5" y2="626" stroke="#737373" stroke-width="1"/>
<rect x="476.5" y="605.5" width="4" height="13" fill="#6fa98a" stroke="#1d4f30" stroke-width="1"/>
<line x1="484.5" y1="566" x2="484.5" y2="604" stroke="#737373" stroke-width="1"/>
<rect x="482.5" y="573.5" width="4" height="30" fill="#6fa98a" stroke="#1d4f30" stroke-width="1"/>
<line x1="491.5" y1="541" x2="491.5" y2="579" stroke="#737373" stroke-width="1"/>
<rect x="489.5" y="546.5" width="4" height="26" fill="#6fa98a" stroke="#1d4f30" stroke-width="1"/>
<line x1="497.5" y1="544" x2="497.5" y2="570" stroke="#737373" stroke-width="1"/>
<rect x="495.5" y="546.5" width="4" height="21" fill="#e05a48" stroke="#5e100a" stroke-width="1"/>
<line x1="504.5" y1="558" x2="504.5" y2="572" stroke="#737373" stroke-width="1"/>
<line x1="502.0" y1="570.5" x2="507.0" y2="570.5" stroke="#1d4f30" stroke-width="1"/>
<line x1="510.5" y1="558" x2="510.5" y2="581" stroke="#737373" stroke-width="1"/>
<rect x="508.5" y="569.5" width="4" height="5" fill="#e05a48" stroke="#5e100a" stroke-width="1"/>
<line x1="517.5" y1="559" x2="517.5" y2="583" stroke="#737373" stroke-width="1"/>
<rect x="515.5" y="575.5" width="4" height="7" fill="#e05a48" stroke="#5e100a" stroke-width="1"/>
<line x1="523.5" y1="568" x2="523.5" y2="591" stroke="#737373" stroke-width="1"/>
<rect x="521.5" y="572.5" width="4" height="11" fill="#6fa98a" stroke="#1d4f30" stroke-width="1"/>
<line x1="530.5" y1="572" x2="530.5" y2="598" stroke="#737373" stroke-width="1"/>
<rect x="528.5" y="572.5" width="4" height="23" fill="#e05a48" stroke="#5e100a" stroke-width="1"/>
<line x1="536.5" y1="584" x2="536.5" y2="599" stroke="#737373" stroke-width="1"/>
<rect x="534.5" y="596.5" width="4" height="2" fill="#e05a48" stroke="#5e100a" stroke-width="1"/>
<line x1="543.5" y1="594" x2="543.5" y2="607" stroke="#737373" stroke-width="1"/>
<line x1="541.0" y1="598.5" x2="546.0" y2="598.5" stroke="#5e100a" stroke-width="1"/>
<line x1="549.5" y1="580" x2="549.5" y2="605" stroke="#737373" stroke-width="1"/>
<rect x="547.5" y="588.5" width="4" height="10" fill="#6fa98a" stroke="#1d4f30" stroke-width="1"/>
<line x1="556.5" y1="554" x2="556.5" y2="594" stroke="#737373" stroke-width="1"/>
<rect x="554.5" y="561.5" width="4" height="27" fill="#6fa98a" stroke="#1d4f30" stroke-width="1"/>
<line x1="562.5" y1="517" x2="562.5" y2="565" stroke="#737373" stroke-width="1"/>
<rect x="560.5" y="521.5" width="4" height="39" fill="#6fa98a" stroke="#1d4f30" stroke-width="1"/>
<line x1="569.5" y1="501" x2="569.5" y2="533" stroke="#737373" stroke-width="1"/>
<rect x="567.5" y="520.5" width="4" height="11" fill="#e05a48" stroke="#5e100a" stroke-width="1"/>
<line x1="575.5" y1="497" x2="575.5" y2="537" stroke="#737373" stroke-width="1"/>
<rect x="573.5" y="505.5" width="4" height="26" fill="#6fa98a" stroke="#1d4f30" stroke-width="1"/>
<line x1="581.5" y1="486" x2="581.5" y2="513" stroke="#737373" stroke-width="1"/>
<rect x="579.5" y="497.5" width="4" height="7" fill="#6fa98a" stroke="#1d4f30" stroke-width="1"/>
<line x1="588.5" y1="479" x2="588.5" y2="503" stroke="#737373" stroke-width="1"/>
<line x1="586.0" y1="496.5" x2="591.0" y2="496.5" stroke="#5e100a" stroke-width="1"/>
<line x1="594.5" y1="485" x2="594.5" y2="499" stroke="#737373" stroke-width="1"/>
<rect x="592.5" y="489.5" width="4" height="8" fill="#6fa98a" stroke="#1d4f30" stroke-width="1"/>
<line x1="601.5" y1="477" x2="601.5" y2="513" stroke="#737373" stroke-width="1"/>
<rect x="599.5" y="489.5" width="4" height="19" fill="#e05a48" stroke="#5e100a" stroke-width="1"/>
<line x1="607.5" y1="458" x2="607.5" y2="509" stroke="#737373" stroke-width="1"/>
<rect x="605.5" y="459.5" width="4" height="47" fill="#6fa98a" stroke="#1d4f30" stroke-width="1"/>
<line x1="614.5" y1="451" x2="614.5" y2="473" stroke="#737373" stroke-width="1"/>
<rect x="612.5" y="460.5" width="4" height="9" fill="#e05a48" stroke="#5e100a" stroke-width="1"/>
<line x1="620.5" y1="435" x2="620.5" y2="470" stroke="#737373" stroke-width="1"/>
<rect x="618.5" y="450.5" width="4" height="19" fill="#6fa98a" stroke="#1d4f30" stroke-width="1"/>
<line x1="627.5" y1="442" x2="627.5" y2="462" stroke="#737373" stroke-width="1"/>
<rect x="625.5" y="449.5" width="4" height="7" fill="#e05a48" stroke="#5e100a" stroke-width="1"/>
<line x1="633.5" y1="451" x2="633.5" y2="474" stroke="#737373" stroke-width="1"/>
<rect x="631.5" y="458.5" width="4" height="6" fill="#e05a48" stroke="#5e100a" stroke-width="1"/>
<line x1="640.5" y1="425" x2="640.5" y2="473" stroke="#737373" stroke-width="1"/>
<rect x="638.5" y="428.5" width="4" height="37" fill="#6fa98a" stroke="#1d4f30" stroke-width="1"/>
<line x1="646.5" y1="417" x2="646.5" y2="478" stroke="#737373" stroke-width="1"/>
<rect x="644.5" y="428.5" width="4" height="48" fill="#e05a48" stroke="#5e100a" stroke-width="1"/>
<line x1="653.5" y1="462" x2="653.5" y2="491" stroke="#737373" stroke-width="1"/>
<rect x="651.5" y="474.5" width="4" height="4" fill="#e05a48" stroke="#5e100a" stroke-width="1"/>
<line x1="659.5" y1="466" x2="659.5" y2="483" stroke="#737373" stroke-width="1"/>
<line x1="657.0" y1="478.5" x2="662.0" y2="478.5" stroke="#5e100a" stroke-width="1"/>
<line x1="666.5" y1="465" x2="666.5" y2="493" stroke="#737373" stroke-width="1"/>
<rect x="664.5" y="478.5" width="4" height="11" fill="#e05a48" stroke="#5e100a" stroke-width="1"/>
<line x1="672.5" y1="478" x2="672.5" y2="495" stroke="#737373" stroke-width="1"/>
<rect x="670.5" y="480.5" width="4" height="9" fill="#6fa98a" stroke="#1d4f30" stroke-width="1"/>
<line x1="678.5" y1="459" x2="678.5" y2="491" stroke="#737373" stroke-width="1"/>
<rect x="676.5" y="463.5" width="4" height="18" fill="#6fa98a" stroke="#1d4f30" stroke-width="1"/>
<line x1="685.5" y1="461" x2="685.5" y2="462" stroke="#737373" stroke-width="1"/>
<line x1="683.0" y1="461.5" x2="688.0" y2="461.5" stroke="#1d4f30" stroke-width="1"/>
<line x1="691.5" y1="439" x2="691.5" y2="473" stroke="#737373" stroke-width="1"/>
<rect x="689.5" y="455.5" width="4" height="6" fill="#6fa98a" stroke="#1d4f30" stroke-width="1"/>
<line x1="698.5" y1="396" x2="698.5" y2="455" stroke="#737373" stroke-width="1"/>
<rect x="696.5" y="398.5" width="4" height="55" fill="#6fa98a" stroke="#1d4f30" stroke-width="1"/>
<line x1="704.5" y1="340" x2="704.5" y2="399" stroke="#737373" stroke-width="1"/>
<rect x="702.5" y="341.5" width="4" height="57" fill="#6fa98a" stroke="#1d4f30" stroke-width="1"/>
<line x1="711.5" y1="333" x2="711.5" y2="368" stroke="#737373" stroke-width="1"/>
<rect x="709.5" y="341.5" width="4" height="14" fill="#e05a48" stroke="#5e100a" stroke-width="1"/>
<line x1="717.5" y1="324" x2="717.5" y2="389" stroke="#737373" stroke-width="1"/>
<rect x="715.5" y="325.5" width="4" height="30" fill="#6fa98a" stroke="#1d4f30" stroke-width="1"/>
<line x1="724.5" y1="292" x2="724.5" y2="358" stroke="#737373" stroke-width="1"/>
<rect x="722.5" y="306.5" width="4" height="18" fill="#6fa98a" stroke="#1d4f30" stroke-width="1"/>
<line x1="730.5" y1="279" x2="730.5" y2="317" stroke="#737373" stroke-width="1"/>
<rect x="728.5" y="289.5" width="4" height="17" fill="#6fa98a" stroke="#1d4f30" stroke-width="1"/>
<line x1="737.5" y1="268" x2="737.5" y2="321" stroke="#737373" stroke-width="1"/>
<rect x="735.5" y="289.5" width="4" height="12" fill="#e05a48" stroke="#5e100a" stroke-width="1"/>
<line x1="743.5" y1="270" x2="743.5" y2="309" stroke="#737373" stroke-width="1"/>
<rect x="741.5" y="274.5" width="4" height="26" fill="#6fa98a" stroke="#1d4f30" stroke-width="1"/>
<line x1="750.5" y1="198" x2="750.5" y2="305" stroke="#737373" stroke-width="1"/>
<rect x="748.5" y="273.5" width="4" height="31" fill="#e05a48" stroke="#5e100a" stroke-width="1"/>
<line x1="756.5" y1="248" x2="756.5" y2="318" stroke="#737373" stroke-width="1"/>
<rect x="754.5" y="250.5" width="4" height="52" fill="#6fa98a" stroke="#1d4f30" stroke-width="1"/>
<line x1="763.5" y1="241" x2="763.5" y2="298" stroke="#737373" stroke-width="1"/>
<rect x="761.5" y="250.5" width="4" height="41" fill="#e05a48" stroke="#5e100a" stroke-width="1"/>
<line x1="769.5" y1="253" x2="769.5" y2="292" stroke="#737373" stroke-width="1"/>
<rect x="767.5" y="285.5" width="4" height="6" fill="#6fa98a" stroke="#1d4f30" stroke-width="1"/>
<line x1="776.5" y1="261" x2="776.5" y2="287" stroke="#737373" stroke-width="1"/>
<rect x="774.5" y="285.5" width="4" height="2" fill="#6fa98a" stroke="#1d4f30" stroke-width="1"/>
<line x1="782.5" y1="245" x2="782.5" y2="292" stroke="#737373" stroke-width="1"/>
<rect x="780.5" y="260.5" width="4" height="25" fill="#6fa98a" stroke="#1d4f30" stroke-width="1"/>
<line x1="788.5" y1="258" x2="788.5" y2="344" stroke="#737373" stroke-width="1"/>
<rect x="786.5" y="259.5" width="4" height="80" fill="#e05a48" stroke="#5e100a" stroke-width="1"/>
<line x1="795.5" y1="330" x2="795.5" y2="368" stroke="#737373" stroke-width="1"/>
<rect x="793.5" y="335.5" width="4" height="8" fill="#6fa98a" stroke="#1d4f30" stroke-width="1"/>
<line x1="801.5" y1="324" x2="801.5" y2="348" stroke="#737373" stroke-width="1"/>
<rect x="799.5" y="335.5" width="4" height="8" fill="#e05a48" stroke="#5e100a" stroke-width="1"/>
<line x1="808.5" y1="320" x2="808.5" y2="351" stroke="#737373" stroke-width="1"/>
<rect x="806.5" y="328.5" width="4" height="15" fill="#6fa98a" stroke="#1d4f30" stroke-width="1"/>
<line x1="814.5" y1="311" x2="814.5" y2="346" stroke="#737373" stroke-width="1"/>
<rect x="812.5" y="328.5" width="4" height="11" fill="#e05a48" stroke="#5e100a" stroke-width="1"/>
<line x1="821.5" y1="327" x2="821.5" y2="353" stroke="#737373" stroke-width="1"/>
<rect x="819.5" y="341.5" width="4" height="2" fill="#e05a48" stroke="#5e100a" stroke-width="1"/>
<line x1="827.5" y1="344" x2="827.5" y2="391" stroke="#737373" stroke-width="1"/>
<rect x="825.5" y="344.5" width="4" height="46" fill="#e05a48" stroke="#5e100a" stroke-width="1"/>
<line x1="834.5" y1="352" x2="834.5" y2="391" stroke="#737373" stroke-width="1"/>
<rect x="832.5" y="371.5" width="4" height="19" fill="#6fa98a" stroke="#1d4f30" stroke-width="1"/>
<line x1="840.5" y1="361" x2="840.5" y2="404" stroke="#737373" stroke-width="1"/>
<line x1="838.0" y1="369.5" x2="843.0" y2="369.5" stroke="#1d4f30" stroke-width="1"/>
<line x1="847.5" y1="357" x2="847.5" y2="398" stroke="#737373" stroke-width="1"/>
<rect x="845.5" y="369.5" width="4" height="6" fill="#e05a48" stroke="#5e100a" stroke-width="1"/>
<line x1="853.5" y1="325" x2="853.5" y2="381" stroke="#737373" stroke-width="1"/>
<rect x="851.5" y="327.5" width="4" height="48" fill="#6fa98a" stroke="#1d4f30" stroke-width="1"/>
<line x1="860.5" y1="323" x2="860.5" y2="341" stroke="#737373" stroke-width="1"/>
<rect x="858.5" y="327.5" width="4" height="10" fill="#e05a48" stroke="#5e100a" stroke-width="1"/>
<line x1="866.5" y1="325" x2="866.5" y2="350" stroke="#737373" stroke-width="1"/>
<rect x="864.5" y="333.5" width="4" height="5" fill="#6fa98a" stroke="#1d4f30" stroke-width="1"/>
<line x1="873.5" y1="278" x2="873.5" y2="335" stroke="#737373" stroke-width="1"/>
<rect x="871.5" y="278.5" width="4" height="54" fill="#6fa98a" stroke="#1d4f30" stroke-width="1"/>
<line x1="879.5" y1="255" x2="879.5" y2="293" stroke="#737373" stroke-width="1"/>
<rect x="877.5" y="280.5" width="4" height="9" fill="#e05a48" stroke="#5e100a" stroke-width="1"/>
<line x1="885.5" y1="276" x2="885.5" y2="298" stroke="#737373" stroke-width="1"/>
<rect x="883.5" y="285.5" width="4" height="2" fill="#6fa98a" stroke="#1d4f30" stroke-width="1"/>
<line x1="892.5" y1="256" x2="892.5" y2="290" stroke="#737373" stroke-width="1"/>
<rect x="890.5" y="263.5" width="4" height="22" fill="#6fa98a" stroke="#1d4f30" stroke-width="1"/>
<line x1="898.5" y1="202" x2="898.5" y2="272" stroke="#737373" stroke-width="1"/>
<rect x="896.5" y="208.5" width="4" height="55" fill="#6fa98a" stroke="#1d4f30" stroke-width="1"/>
<line x1="905.5" y1="196" x2="905.5" y2="224" stroke="#737373" stroke-width="1"/>
<rect x="903.5" y="207.5" width="4" height="3" fill="#e05a48" stroke="#5e100a" stroke-width="1"/>
<line x1="911.5" y1="101" x2="911.5" y2="215" stroke="#737373" stroke-width="1"/>
<rect x="909.5" y="107.5" width="4" height="103" fill="#6fa98a" stroke="#1d4f30" stroke-width="1"/>
<line x1="918.5" y1="51" x2="918.5" y2="136" stroke="#737373" stroke-width="1"/>
<rect x="916.5" y="89.5" width="4" height="17" fill="#6fa98a" stroke="#1d4f30" stroke-width="1"/>
<line x1="924.5" y1="49" x2="924.5" y2="129" stroke="#737373" stroke-width="1"/>
<rect x="922.5" y="81.5" width="4" height="8" fill="#6fa98a" stroke="#1d4f30" stroke-width="1"/>
<line x1="931.5" y1="68" x2="931.5" y2="146" stroke="#737373" stroke-width="1"/>
<rect x="929.5" y="81.5" width="4" height="64" fill="#e05a48" stroke="#5e100a" stroke-width="1"/>
<line x1="937.5" y1="134" x2="937.5" y2="184" stroke="#737373" stroke-width="1"/>
<rect x="935.5" y="146.5" width="4" height="35" fill="#e05a48" stroke="#5e100a" stroke-width="1"/>
<line x1="944.5" y1="154" x2="944.5" y2="185" stroke="#737373" stroke-width="1"/>
<rect x="942.5" y="170.5" width="4" height="11" fill="#6fa98a" stroke="#1d4f30" stroke-width="1"/>
<line x1="950.5" y1="87" x2="950.5" y2="169" stroke="#737373" stroke-width="1"/>
<rect x="948.5" y="98.5" width="4" height="70" fill="#6fa98a" stroke="#1d4f30" stroke-width="1"/>
<line x1="957.5" y1="66" x2="957.5" y2="119" stroke="#737373" stroke-width="1"/>
<rect x="955.5" y="75.5" width="4" height="25" fill="#6fa98a" stroke="#1d4f30" stroke-width="1"/>
<line x1="963.5" y1="63" x2="963.5" y2="100" stroke="#737373" stroke-width="1"/>
<rect x="961.5" y="75.5" width="4" height="5" fill="#e05a48" stroke="#5e100a" stroke-width="1"/>
<line x1="970.5" y1="74" x2="970.5" y2="132" stroke="#737373" stroke-width="1"/>
<rect x="968.5" y="82.5" width="4" height="41" fill="#e05a48" stroke="#5e100a" stroke-width="1"/>
<line x1="976.5" y1="92" x2="976.5" y2="177" stroke="#737373" stroke-width="1"/>
<rect x="974.5" y="125.5" width="4" height="41" fill="#e05a48" stroke="#5e100a" stroke-width="1"/>
<line x1="983.5" y1="144" x2="983.5" y2="199" stroke="#737373" stroke-width="1"/>
<rect x="981.5" y="146.5" width="4" height="19" fill="#6fa98a" stroke="#1d4f30" stroke-width="1"/>
<line x1="989.5" y1="140" x2="989.5" y2="221" stroke="#737373" stroke-width="1"/>
<rect x="987.5" y="150.5" width="4" height="65" fill="#e05a48" stroke="#5e100a" stroke-width="1"/>
<line x1="995.5" y1="185" x2="995.5" y2="220" stroke="#737373" stroke-width="1"/>
<rect x="993.5" y="187.5" width="4" height="28" fill="#6fa98a" stroke="#1d4f30" stroke-width="1"/>
<line x1="1002.5" y1="115" x2="1002.5" y2="189" stroke="#737373" stroke-width="1"/>
<rect x="1000.5" y="117.5" width="4" height="70" fill="#6fa98a" stroke="#1d4f30" stroke-width="1"/>
<line x1="1008.5" y1="104" x2="1008.5" y2="235" stroke="#737373" stroke-width="1"/>
<rect x="1006.5" y="117.5" width="4" height="115" fill="#e05a48" stroke="#5e100a" stroke-width="1"/>
<line x1="1015.5" y1="199" x2="1015.5" y2="233" stroke="#737373" stroke-width="1"/>
<rect x="1013.5" y="202.5" width="4" height="30" fill="#6fa98a" stroke="#1d4f30" stroke-width="1"/>
<line x1="1021.5" y1="195" x2="1021.5" y2="240" stroke="#737373" stroke-width="1"/>
<rect x="1019.5" y="203.5" width="4" height="24" fill="#e05a48" stroke="#5e100a" stroke-width="1"/>
<line x1="1028.5" y1="174" x2="1028.5" y2="230" stroke="#737373" stroke-width="1"/>
<rect x="1026.5" y="205.5" width="4" height="22" fill="#6fa98a" stroke="#1d4f30" stroke-width="1"/>
<line x1="1034.5" y1="202" x2="1034.5" y2="260" stroke="#737373" stroke-width="1"/>
<rect x="1032.5" y="203.5" width="4" height="40" fill="#e05a48" stroke="#5e100a" stroke-width="1"/>
<line x1="1041.5" y1="211" x2="1041.5" y2="251" stroke="#737373" stroke-width="1"/>
<rect x="1039.5" y="213.5" width="4" height="31" fill="#6fa98a" stroke="#1d4f30" stroke-width="1"/>
<line x1="1047.5" y1="211" x2="1047.5" y2="240" stroke="#737373" stroke-width="1"/>
<rect x="1045.5" y="213.5" width="4" height="5" fill="#e05a48" stroke="#5e100a" stroke-width="1"/>
<line x1="1054.5" y1="205" x2="1054.5" y2="246" stroke="#737373" stroke-width="1"/>
<rect x="1052.5" y="214.5" width="4" height="4" fill="#6fa98a" stroke="#1d4f30" stroke-width="1"/>
<line x1="1060.5" y1="199" x2="1060.5" y2="223" stroke="#737373" stroke-width="1"/>
<rect x="1058.5" y="203.5" width="4" height="12" fill="#6fa98a" stroke="#1d4f30" stroke-width="1"/>
<line x1="1067.5" y1="145" x2="1067.5" y2="204" stroke="#737373" stroke-width="1"/>
<rect x="1065.5" y="149.5" width="4" height="54" fill="#6fa98a" stroke="#1d4f30" stroke-width="1"/>
<line x1="1073.5" y1="141" x2="1073.5" y2="216" stroke="#737373" stroke-width="1"/>
<rect x="1071.5" y="148.5" width="4" height="65" fill="#e05a48" stroke="#5e100a" stroke-width="1"/>
<line x1="1080.5" y1="203" x2="1080.5" y2="223" stroke="#737373" stroke-width="1"/>
<line x1="1078.0" y1="212.5" x2="1083.0" y2="212.5" stroke="#5e100a" stroke-width="1"/>
<line x1="1086.5" y1="206" x2="1086.5" y2="250" stroke="#737373" stroke-width="1"/>
<rect x="1084.5" y="213.5" width="4" height="35" fill="#e05a48" stroke="#5e100a" stroke-width="1"/>
<line x1="1092.5" y1="238" x2="1092.5" y2="265" stroke="#737373" stroke-width="1"/>
<rect x="1090.5" y="250.5" width="4" height="5" fill="#e05a48" stroke="#5e100a" stroke-width="1"/>
<line x1="1099.5" y1="228" x2="1099.5" y2="259" stroke="#737373" stroke-width="1"/>
<rect x="1097.5" y="242.5" width="4" height="13" fill="#6fa98a" stroke="#1d4f30" stroke-width="1"/>
<line x1="1105.5" y1="208" x2="1105.5" y2="254" stroke="#737373" stroke-width="1"/>
<rect x="1103.5" y="235.5" width="4" height="9" fill="#6fa98a" stroke="#1d4f30" stroke-width="1"/>
<line x1="1112.5" y1="216" x2="1112.5" y2="244" stroke="#737373" stroke-width="1"/>
<rect x="1110.5" y="218.5" width="4" height="16" fill="#6fa98a" stroke="#1d4f30" stroke-width="1"/>
<line x1="1118.5" y1="198" x2="1118.5" y2="231" stroke="#737373" stroke-width="1"/>
<rect x="1116.5" y="214.5" width="4" height="6" fill="#6fa98a" stroke="#1d4f30" stroke-width="1"/>
<line x1="1125.5" y1="151" x2="1125.5" y2="216" stroke="#737373" stroke-width="1"/>
<rect x="1123.5" y="162.5" width="4" height="53" fill="#6fa98a" stroke="#1d4f30" stroke-width="1"/>
<line x1="1131.5" y1="156" x2="1131.5" y2="176" stroke="#737373" stroke-width="1"/>
<rect x="1129.5" y="161.5" width="4" height="5" fill="#e05a48" stroke="#5e100a" stroke-width="1"/>
<line x1="1138.5" y1="107" x2="1138.5" y2="177" stroke="#737373" stroke-width="1"/>
<rect x="1136.5" y="122.5" width="4" height="44" fill="#6fa98a" stroke="#1d4f30" stroke-width="1"/>
<line x1="1144.5" y1="113" x2="1144.5" y2="164" stroke="#737373" stroke-width="1"/>
<rect x="1142.5" y="122.5" width="4" height="22" fill="#e05a48" stroke="#5e100a" stroke-width="1"/>
<line x1="1151.5" y1="125" x2="1151.5" y2="159" stroke="#737373" stroke-width="1"/>
<rect x="1149.0" y="146" width="5" height="2" fill="#1d4f30"/>
<line x1="1157.5" y1="125" x2="1157.5" y2="152" stroke="#737373" stroke-width="1"/>
<line x1="1155.0" y1="145.5" x2="1160.0" y2="145.5" stroke="#1d4f30" stroke-width="1"/>
<line x1="1164.5" y1="92" x2="1164.5" y2="145" stroke="#737373" stroke-width="1"/>
<rect x="1162.5" y="109.5" width="4" height="35" fill="#6fa98a" stroke="#1d4f30" stroke-width="1"/>
<line x1="1170.5" y1="109" x2="1170.5" y2="166" stroke="#737373" stroke-width="1"/>
<rect x="1168.5" y="110.5" width="4" height="34" fill="#e05a48" stroke="#5e100a" stroke-width="1"/>
<line x1="1177.5" y1="128" x2="1177.5" y2="159" stroke="#737373" stroke-width="1"/>
<rect x="1175.5" y="145.5" width="4" height="6" fill="#e05a48" stroke="#5e100a" stroke-width="1"/>
<line x1="1183.5" y1="111" x2="1183.5" y2="161" stroke="#737373" stroke-width="1"/>
<rect x="1181.5" y="119.5" width="4" height="32" fill="#6fa98a" stroke="#1d4f30" stroke-width="1"/>
<line x1="1190.5" y1="110" x2="1190.5" y2="185" stroke="#737373" stroke-width="1"/>
<rect x="1188.5" y="121.5" width="4" height="51" fill="#e05a48" stroke="#5e100a" stroke-width="1"/>
<line x1="1196.5" y1="155" x2="1196.5" y2="201" stroke="#737373" stroke-width="1"/>
<rect x="1194.5" y="175.5" width="4" height="22" fill="#e05a48" stroke="#5e100a" stroke-width="1"/>
<line x1="1202.5" y1="196" x2="1202.5" y2="249" stroke="#737373" stroke-width="1"/>
<rect x="1200.5" y="199.5" width="4" height="32" fill="#e05a48" stroke="#5e100a" stroke-width="1"/>
<line x1="1209.5" y1="219" x2="1209.5" y2="255" stroke="#737373" stroke-width="1"/>
<rect x="1207.5" y="231.5" width="4" height="6" fill="#e05a48" stroke="#5e100a" stroke-width="1"/>
<line x1="1215.5" y1="226" x2="1215.5" y2="260" stroke="#737373" stroke-width="1"/>
<rect x="1213.5" y="231.5" width="4" height="6" fill="#6fa98a" stroke="#1d4f30" stroke-width="1"/>
<line x1="1222.5" y1="218" x2="1222.5" y2="248" stroke="#737373" stroke-width="1"/>
<rect x="1220.5" y="231.5" width="4" height="16" fill="#e05a48" stroke="#5e100a" stroke-width="1"/>
<line x1="1228.5" y1="247" x2="1228.5" y2="327" stroke="#737373" stroke-width="1"/>
<rect x="1226.5" y="250.5" width="4" height="55" fill="#e05a48" stroke="#5e100a" stroke-width="1"/>
<line x1="1235.5" y1="292" x2="1235.5" y2="318" stroke="#737373" stroke-width="1"/>
<rect x="1233.5" y="301.5" width="4" height="5" fill="#6fa98a" stroke="#1d4f30" stroke-width="1"/>
<line x1="1241.5" y1="286" x2="1241.5" y2="334" stroke="#737373" stroke-width="1"/>
<rect x="1239.5" y="301.5" width="4" height="4" fill="#e05a48" stroke="#5e100a" stroke-width="1"/>
<line x1="1248.5" y1="274" x2="1248.5" y2="316" stroke="#737373" stroke-width="1"/>
<rect x="1246.5" y="276.5" width="4" height="27" fill="#6fa98a" stroke="#1d4f30" stroke-width="1"/>
<line x1="1254.5" y1="240" x2="1254.5" y2="283" stroke="#737373" stroke-width="1"/>
<rect x="1252.5" y="243.5" width="4" height="32" fill="#6fa98a" stroke="#1d4f30" stroke-width="1"/>
<line x1="1261.5" y1="234" x2="1261.5" y2="284" stroke="#737373" stroke-width="1"/>
<rect x="1259.5" y="243.5" width="4" height="26" fill="#e05a48" stroke="#5e100a" stroke-width="1"/>
<line x1="1267.5" y1="229" x2="1267.5" y2="299" stroke="#737373" stroke-width="1"/>
<rect x="1265.5" y="268.5" width="4" height="2" fill="#6fa98a" stroke="#1d4f30" stroke-width="1"/>
<line x1="1274.5" y1="260" x2="1274.5" y2="377" stroke="#737373" stroke-width="1"/>
<rect x="1272.5" y="267.5" width="4" height="70" fill="#e05a48" stroke="#5e100a" stroke-width="1"/>
<line x1="1280.5" y1="320" x2="1280.5" y2="372" stroke="#737373" stroke-width="1"/>
<rect x="1278.5" y="339.5" width="4" height="13" fill="#e05a48" stroke="#5e100a" stroke-width="1"/>
</g>
<g id="flash" transform="translate(1280.5,663.5)">
<path d="M 2.9 -9.25 A 9.7 9.7 0 1 0 9.3 -2.9" fill="none" stroke="#8e24aa" stroke-width="1.5" stroke-linecap="round"/>
<path d="M2.5,-5.4 L-4.3,0.05 L-0.2,0.3 L-3.3,5.0 L4.3,-0.25 L0.8,-0.5 Z" fill="#8e24aa"/>
<circle cx="6.95" cy="-6.9" r="2.55" fill="#f23645"/>
</g>
<g id="priceaxis">
<rect x="1349" y="2" width="64" height="674" fill="#fff"/>
<rect x="1349" y="677" width="64" height="74" fill="#fff"/>
<rect x="1349" y="753" width="64" height="42" fill="#fff"/>
<line x1="1348.5" y1="2" x2="1348.5" y2="818" stroke="#4a4a4a" stroke-width="1" shape-rendering="crispEdges"/>
<text x="1357.2" y="83.5" font-size="12" fill="#555555" textLength="36" lengthAdjust="spacingAndGlyphs">32.000</text>
<text x="1357.2" y="137.8" font-size="12" fill="#555555" textLength="36" lengthAdjust="spacingAndGlyphs">31.000</text>
<text x="1357.2" y="192.1" font-size="12" fill="#555555" textLength="36" lengthAdjust="spacingAndGlyphs">30.000</text>
<text x="1357.2" y="246.4" font-size="12" fill="#555555" textLength="36" lengthAdjust="spacingAndGlyphs">29.000</text>
<text x="1357.2" y="300.8" font-size="12" fill="#555555" textLength="36" lengthAdjust="spacingAndGlyphs">28.000</text>
<text x="1357.2" y="355.1" font-size="12" fill="#555555" textLength="36" lengthAdjust="spacingAndGlyphs">27.000</text>
<text x="1357.2" y="409.4" font-size="12" fill="#555555" textLength="36" lengthAdjust="spacingAndGlyphs">26.000</text>
<text x="1357.2" y="463.8" font-size="12" fill="#555555" textLength="36" lengthAdjust="spacingAndGlyphs">25.000</text>
<text x="1357.2" y="518.1" font-size="12" fill="#555555" textLength="36" lengthAdjust="spacingAndGlyphs">24.000</text>
<text x="1357.2" y="572.4" font-size="12" fill="#555555" textLength="36" lengthAdjust="spacingAndGlyphs">23.000</text>
<text x="1357.2" y="694.5" font-size="12" fill="#555555" textLength="36" lengthAdjust="spacingAndGlyphs">250.00</text>
<text x="1357.2" y="724.8" font-size="12" fill="#555555" textLength="24" lengthAdjust="spacingAndGlyphs">0.00</text>
<clipPath id="cl1"><rect x="1349" y="677" width="64" height="75"/></clipPath>
<text x="1357.2" y="754.8" font-size="12" fill="#555555" textLength="42" lengthAdjust="spacingAndGlyphs" clip-path="url(#cl1)">−250.00</text>
<text x="1357.2" y="767" font-size="12" fill="#555555" textLength="30" lengthAdjust="spacingAndGlyphs">1.000</text>
<path d="M1348 43.0 H1396 a2 2 0 0 1 2 2 V58.0 a2 2 0 0 1 -2 2 H1348 Z" fill="#000"/>
<text x="1357.2" y="55.8" font-size="12" font-weight="bold" fill="#fff" textLength="35.6" lengthAdjust="spacingAndGlyphs">32.510</text>
<path d="M1348 190.0 H1396 a2 2 0 0 1 2 2 V205.0 a2 2 0 0 1 -2 2 H1348 Z" fill="#000"/>
<text x="1357.2" y="202.8" font-size="12" font-weight="bold" fill="#fff" textLength="35.6" lengthAdjust="spacingAndGlyphs">29.814</text>
<path d="M1348 401.0 H1396 a2 2 0 0 1 2 2 V416.0 a2 2 0 0 1 -2 2 H1348 Z" fill="#000"/>
<text x="1357.2" y="413.8" font-size="12" font-weight="bold" fill="#fff" textLength="35.6" lengthAdjust="spacingAndGlyphs">25.927</text>
<path d="M1348 617.0 H1396 a2 2 0 0 1 2 2 V632.0 a2 2 0 0 1 -2 2 H1348 Z" fill="#000"/>
<text x="1357.2" y="629.8" font-size="12" font-weight="bold" fill="#fff" textLength="35.6" lengthAdjust="spacingAndGlyphs">21.949</text>
<path d="M1348 345 H1407 a2 2 0 0 1 2 2 V360 a2 2 0 0 1 -2 2 H1348 Z" fill="#d9513e"/>
<text x="1357.3" y="358" font-size="12.5" fill="#fbe3df" stroke="#fbe3df" stroke-width="0.25" textLength="45" lengthAdjust="spacingAndGlyphs">13:52:41</text>
<rect x="1352.5" y="6.5" width="57" height="25" rx="4" fill="#fff" stroke="#dcdfe9" stroke-width="1"/>
<text x="1356.2" y="22.7" font-size="12" fill="#20223a" textLength="20.6" lengthAdjust="spacingAndGlyphs">USD</text>
<path d="M1399.9 18.5 l2.6 2.4 l2.6 -2.4" fill="none" stroke="#222" stroke-width="1.3"/>
</g>
<g id="separators" stroke="#e0e3eb" stroke-width="1" shape-rendering="crispEdges">
<line x1="3" y1="676.5" x2="1413" y2="676.5"/>
<line x1="3" y1="752.5" x2="1413" y2="752.5"/>
</g>
<g id="timeaxis">
<rect x="3" y="796" width="1410" height="22" fill="#fff"/>
<line x1="3" y1="795.5" x2="1413" y2="795.5" stroke="#4a4a4a" stroke-width="1" shape-rendering="crispEdges"/>
<line x1="1348.5" y1="795" x2="1348.5" y2="818" stroke="#4a4a4a" stroke-width="1" shape-rendering="crispEdges"/>
<text x="135.6" y="813" font-size="12" fill="#555555" text-anchor="middle">Dec</text>
<text x="271.4" y="813" font-size="12" fill="#555555" text-anchor="middle" font-weight="bold">2024</text>
<text x="420.2" y="813" font-size="12" fill="#555555" text-anchor="middle">Feb</text>
<text x="556.1" y="813" font-size="12" fill="#555555" text-anchor="middle">Mar</text>
<text x="691.9" y="813" font-size="12" fill="#555555" text-anchor="middle">Apr</text>
<text x="834.2" y="813" font-size="12" fill="#555555" text-anchor="middle">May</text>
<text x="983.0" y="813" font-size="12" fill="#555555" text-anchor="middle">Jun</text>
<text x="1112.4" y="813" font-size="12" fill="#555555" text-anchor="middle">Jul</text>
<text x="1261.2" y="813" font-size="12" fill="#555555" text-anchor="middle">Aug</text>
<g transform="translate(1381.5,809.4)" fill="none" stroke="#1e2026" stroke-width="1.2" stroke-linejoin="round"><path d="M-6.8 0 L-3.5 -5.5 H3.5 L6.8 0 L3.5 5.5 H-3.5 Z"/><circle r="2" stroke-width="1.1"/></g>
</g>
<g id="legend">
<circle cx="21" cy="17.8" r="9" fill="#a9a6b8"/>
<path d="M18.4 14.1 H23.6 L24.9 16.8 H17.1 Z M15.5 18.4 H20.3 L20.9 21 H14.2 Z M21.7 18.4 H26.5 L27.8 21 H21.1 Z" fill="#fff"/>
<text x="34.4" y="24" font-size="16" fill="#4a4a4a" textLength="32.9" lengthAdjust="spacingAndGlyphs">CFDs</text>
<text x="73.7" y="24" font-size="16" fill="#4a4a4a" textLength="18.0" lengthAdjust="spacingAndGlyphs">on</text>
<text x="94.9" y="24" font-size="16" fill="#4a4a4a" textLength="38.2" lengthAdjust="spacingAndGlyphs">Silver</text>
<text x="140.6" y="24" font-size="16" fill="#4a4a4a" textLength="31.8" lengthAdjust="spacingAndGlyphs">(US$</text>
<text x="190.5" y="24" font-size="16" fill="#4a4a4a" textLength="24.4" lengthAdjust="spacingAndGlyphs">OZ)</text>
<text x="228.7" y="24" font-size="16" fill="#4a4a4a" textLength="16.5" lengthAdjust="spacingAndGlyphs">1D</text>
<text x="260.1" y="24" font-size="16" fill="#4a4a4a" textLength="25.3" lengthAdjust="spacingAndGlyphs">TVC</text>
<text x="182.5" y="24" font-size="16" fill="#4a4a4a" text-anchor="middle">/</text>
<text x="221.3" y="24" font-size="16" fill="#4a4a4a" text-anchor="middle">·</text>
<text x="251.6" y="24" font-size="16" fill="#4a4a4a" text-anchor="middle">·</text>
<circle cx="310.2" cy="17.6" r="8.5" fill="#d9f0ec"/><circle cx="310.2" cy="17.6" r="3.8" fill="#089981"/>
<text x="335.1" y="22.5" font-size="13" textLength="48.2" lengthAdjust="spacingAndGlyphs"><tspan fill="#555555">O</tspan><tspan fill="#6d1f1a">27.218</tspan></text>
<text x="390.5" y="22.5" font-size="13" textLength="46.7" lengthAdjust="spacingAndGlyphs"><tspan fill="#555555">H</tspan><tspan fill="#6d1f1a">27.562</tspan></text>
<text x="445" y="22.5" font-size="13" textLength="45.3" lengthAdjust="spacingAndGlyphs"><tspan fill="#555555">L</tspan><tspan fill="#6d1f1a">26.605</tspan></text>
<text x="496.9" y="22.5" font-size="13" textLength="46.6" lengthAdjust="spacingAndGlyphs"><tspan fill="#555555">C</tspan><tspan fill="#6d1f1a">26.960</tspan></text>
<text x="551.3" y="22.5" font-size="13" fill="#6d1f1a" textLength="37.2" lengthAdjust="spacingAndGlyphs">−0.280</text>
<text x="595" y="22.5" font-size="13" fill="#6d1f1a" textLength="46.7" lengthAdjust="spacingAndGlyphs">(−1.03%)</text>
<rect x="66" y="36" width="30" height="21" fill="#fff" fill-opacity="0.6"/>
<rect x="7" y="36" width="5" height="21" fill="#fff" fill-opacity="0.5"/>
<rect x="11.5" y="35" width="53" height="22.5" rx="4" fill="#fff" stroke="#f23645" stroke-width="1"/>
<text x="19.3" y="51" font-size="13" fill="#f23645" textLength="32" lengthAdjust="spacingAndGlyphs">26.96</text>
<text x="51.6" y="48" font-size="10" fill="#f23645">0</text>
<text x="72.6" y="50.3" font-size="11" fill="#333" textLength="15.3" lengthAdjust="spacingAndGlyphs">2.7</text>
<rect x="96.5" y="35" width="53" height="22.5" rx="4" fill="#fff" stroke="#2962ff" stroke-width="1"/>
<text x="105" y="51" font-size="13" fill="#2962ff" textLength="30.7" lengthAdjust="spacingAndGlyphs">26.98</text>
<text x="136" y="48" font-size="10" fill="#2962ff">8</text>
<text x="12.4" y="78.8" font-size="13" fill="#555555" textLength="73.6" lengthAdjust="spacingAndGlyphs">SMA 20 close</text>
<text x="94.6" y="78.8" font-size="13" fill="#f23645" textLength="38.2" lengthAdjust="spacingAndGlyphs">29.183</text>
<text x="12.4" y="102.8" font-size="13" fill="#555555" textLength="73.6" lengthAdjust="spacingAndGlyphs">SMA 50 close</text>
<text x="94.6" y="102.8" font-size="13" fill="#2a2aff" textLength="38.2" lengthAdjust="spacingAndGlyphs">29.637</text>
<text x="12.4" y="126.8" font-size="13" fill="#555555" textLength="80.2" lengthAdjust="spacingAndGlyphs">SMA 200 close</text>
<text x="101.6" y="126.8" font-size="13" fill="#1a1a1a" textLength="37.9" lengthAdjust="spacingAndGlyphs">26.048</text>
<rect x="12.5" y="136.5" width="28" height="20" rx="3" fill="#fff" stroke="#d1d4dc" stroke-width="1"/>
<path d="M23 148.5 l3.5 -3.5 l3.5 3.5" fill="none" stroke="#222" stroke-width="1.3"/>
<text x="12.4" y="698.1" font-size="13" fill="#555555" textLength="100.9" lengthAdjust="spacingAndGlyphs">CCI 20 hlc3 SMA 5</text>
<text x="122.3" y="698.1" font-size="13" fill="#2962ff" textLength="45.2" lengthAdjust="spacingAndGlyphs">−131.04</text>
<text x="12.4" y="774" font-size="13" fill="#555555" textLength="67.2" lengthAdjust="spacingAndGlyphs">ATR 14 RMA</text>
<text x="87.9" y="774" font-size="13" fill="#c0272d" textLength="31.4" lengthAdjust="spacingAndGlyphs">0.964</text>
<path d="M19 766 h8 v15 h-6 v-9.5 h-2 z M37 766 h6.5 l-5 15 h-6.5 z" fill="#8a8c96"/>
</g>
<path d="M0 0 H1413 V2 H8 a5 5 0 0 0 -5 5 V818 H0 Z" fill="#e0e3ec"/>
</svg>
</body></html>
